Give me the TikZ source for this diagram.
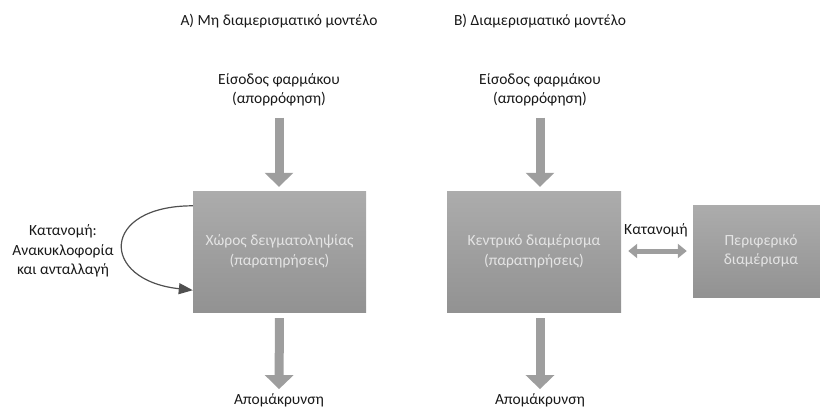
\documentclass[tikz,border=0pt]{standalone}
\usepackage{fontspec}
\setmainfont{Carlito}
\usetikzlibrary{positioning,arrows.meta}
\definecolor{boxtop}{RGB}{172,172,172}
\definecolor{boxbot}{RGB}{146,146,146}
\definecolor{boxtxt}{RGB}{228,228,228}
\definecolor{flowgray}{RGB}{158,158,158}
\definecolor{loopgray}{RGB}{80,80,80}
\definecolor{labelgray}{RGB}{25,25,25}
\newcommand{\labelsize}{\fontsize{15.5}{19.5}\selectfont}

\begin{document}
\begin{tikzpicture}[font=\labelsize,x=1pt,y=-1pt]
% ---- styles ----
\tikzstyle{compbox}=[inner sep=0pt,align=center,text=boxtxt,
  top color=boxtop,bottom color=boxbot]
\tikzstyle{lbl}=[inner sep=0pt,align=center,text=labelgray]
\tikzstyle{flow}=[draw=flowgray,line width=9pt,
  -{Triangle[length=14pt,width=28pt]}]
\tikzstyle{exchange}=[draw=flowgray,line width=5pt,
  {Triangle[length=9pt,width=14pt]}-{Triangle[length=9pt,width=14pt]}]
\tikzstyle{recirc}=[draw=loopgray,line width=1.2pt,
  -{Triangle[length=14pt,width=11pt]}]

\useasboundingbox (0,0) rectangle (820,410);

% ---- titles ----
\node[lbl] (titleA) at (279,21) {A) Μη διαμερισματικό μοντέλο};
\node[lbl] (titleB) at (540,21) {B) Διαμερισματικό μοντέλο};

% ---- model A ----
\node[lbl] (inA) at (279,90) {Είσοδος φαρμάκου\\(απορρόφηση)};
\node[compbox,minimum width=173pt,minimum height=121pt] (boxA) at (279.5,251.5)
  {Χώρος δειγματοληψίας\\(παρατηρήσεις)};
\node[lbl] (outA) at (279,400) {Απομάκρυνση};
\node[lbl] (distA) at (63,251) {Κατανομή:\\Ανακυκλοφορία\\και ανταλλαγή};

\draw[flow,shorten <=11pt,shorten >=4pt] (inA.south) -- (inA.south |- boxA.north);
\draw[flow,shorten <=6pt,shorten >=4pt] (boxA.south) -- (outA.north);
\draw[recirc] ([yshift=-15pt]boxA.north west)
  .. controls +(-93,0) and +(-93,-10) .. ([yshift=22pt]boxA.south west);

% ---- model B ----
\node[lbl] (inB) at (540,90) {Είσοδος φαρμάκου\\(απορρόφηση)};
\node[compbox,minimum width=174pt,minimum height=121pt] (boxB) at (534,251.5)
  {Κεντρικό διαμέρισμα\\(παρατηρήσεις)};
\node[compbox,minimum width=136pt,minimum height=92pt] (periph) at (761,251)
  {Περιφερικό\\διαμέρισμα};
\node[lbl] (outB) at (540,400) {Απομάκρυνση};
\node[lbl] (distB) at (656,230) {Κατανομή};

\draw[flow,shorten <=11pt,shorten >=4pt] (inB.south) -- (inB.south |- boxB.north);
\draw[flow,shorten <=6pt,shorten >=4pt] (inB.south |- boxB.south) -- (outB.north);
\draw[exchange,shorten <=7pt,shorten >=6pt] (boxB.east |- periph.west) -- (periph.west);

\end{tikzpicture}
\end{document}
